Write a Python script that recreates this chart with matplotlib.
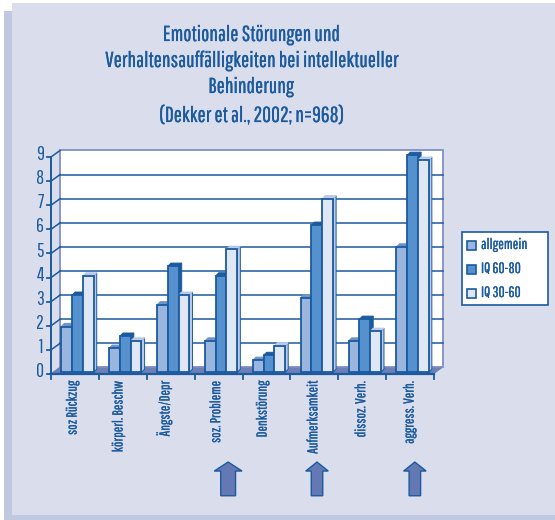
import matplotlib
matplotlib.use('Agg')
import matplotlib.pyplot as plt
import matplotlib.patheffects as pe
from matplotlib.patches import Rectangle

categories = ['soz Rückzug', 'körperl. Beschw', 'Ängste/Depr', 'soz. Probleme',
              'Denkstörung', 'Aufmerksamkeit', 'dissoz. Verh.', 'aggress. Verh.']
allgemein = [1.9, 1.0, 2.8, 1.3, 0.5, 3.1, 1.3, 5.2]
iq_60_80 = [3.2, 1.5, 4.4, 4.0, 0.7, 6.1, 2.2, 9.0]
iq_30_60 = [4.0, 1.3, 3.2, 5.1, 1.1, 7.2, 1.7, 8.8]
series_names = ['allgemein', 'IQ 60-80', 'IQ 30-60']
title_lines = ['Emotionale Störungen und', 'Verhaltensauffälligkeiten bei intellektueller',
               'Behinderung', '(Dekker et al., 2002; n=968)']

W, H = 555, 520
BLUE = '#1b5a9e'
plt.rcParams['font.family'] = ['Pathway Gothic One', 'Liberation Sans Narrow', 'DejaVu Sans']
THICK = [pe.withStroke(linewidth=0.15, foreground=BLUE)]  # the font is a bit thin

fig = plt.figure(figsize=(W / 100, H / 100), dpi=100, facecolor='white')

def px_rect(x0, y0, x1, y1, zorder=5, **kw):
    fig.patches.append(Rectangle((x0 / W, 1 - y1 / H), (x1 - x0) / W, (y1 - y0) / H,
                                 transform=fig.transFigure, zorder=zorder, **kw))

# page background with shadow
px_rect(4, 11, 555, 520, zorder=-3, facecolor='#c0c7e0', edgecolor='none')
px_rect(12, 3, 555, 515, zorder=-2, facecolor='#dadeec', edgecolor='none')

# axes = front edge of the 3d box
left, right, bottom, top = 51, 434, 374, 157
ax = fig.add_axes([left / W, 1 - bottom / H, (right - left) / W, (bottom - top) / H])
ax.set_xlim(0, 8)
ax.set_ylim(0, 9)
ax.patch.set_visible(False)
for s in ax.spines.values():
    s.set_visible(False)

dx = 9 / 47.9   # box depth in data units
dy = 6.5 / 24.1
ax.fill([dx, 8 + dx, 8 + dx, dx], [dy, dy, 9 + dy, 9 + dy], facecolor='white',
        edgecolor='#7f90c5', lw=1.3, clip_on=False, zorder=1)
ax.fill([0, 8, 8 + dx, dx], [0, 0, dy, dy], facecolor='#6c7fb8', edgecolor='none',
        clip_on=False, zorder=2)

for v in range(1, 9):
    ax.plot([dx, 8 + dx], [v + dy, v + dy], color=BLUE, lw=1.1, clip_on=False, zorder=1.5)
for v in range(0, 10):
    ax.plot([0, dx], [v, v + dy], color=BLUE if v else '#6c7fb8', lw=1.1, clip_on=False, zorder=2.5)
    ax.plot([-0.08, 0], [v, v], color=BLUE, lw=1.3, clip_on=False, zorder=3)
    ax.text(-0.15, v + 0.1, str(v), ha='right', va='center', fontsize=14,
            color=BLUE, weight='bold', clip_on=False)
ax.plot([0, 0], [0, 9], color=BLUE, lw=1.4, clip_on=False, zorder=3)
ax.plot([0, 8], [0, 0], color=BLUE, lw=1.6, clip_on=False, zorder=3)
for i in range(9):
    ax.plot([i, i], [0, -0.2], color=BLUE, lw=1.3, clip_on=False, zorder=3)
ax.set_xticks([])
ax.set_yticks([])

# 3d bars
bar_w = 0.225
bar_start = 0.215
base = 0.07
bdx, bdy = 0.065, 0.13
front = ['#9ab6de', '#5590cf', '#dfe6f5']
topc = ['#6f93c8', BLUE, '#b9cbe8']
sidec = ['#6f93c8', BLUE, '#b9cbe8']
series = [allgemein, iq_60_80, iq_30_60]
z = 4
for i in range(len(categories)):
    for k, vals in enumerate(series):
        x0 = i + bar_start + k * bar_w
        x1 = x0 + bar_w
        v = vals[i] + base
        ax.fill([x1, x1 + bdx, x1 + bdx, x1], [base, base + bdy, v + bdy, v],
                facecolor=sidec[k], edgecolor=BLUE, lw=0.7, clip_on=False, zorder=z)
        ax.fill([x0, x0 + bdx, x1 + bdx, x1], [v, v + bdy, v + bdy, v],
                facecolor=topc[k], edgecolor=sidec[k], lw=0.7, clip_on=False, zorder=z)
        ax.fill([x0, x1, x1, x0], [base, base, v, v], facecolor=front[k],
                edgecolor=BLUE, lw=1.3, clip_on=False, zorder=z + 0.5)
        z += 1

# category labels
label_shift = [-0.05, -0.09, -0.13, -0.05, -0.08, -0.02, -0.02, -0.01]
for i, name in enumerate(categories):
    ax.text(i + 0.5 + label_shift[i], -0.3, name, rotation=90, ha='center', va='top',
            fontsize=10.4, color=BLUE, clip_on=False, path_effects=THICK)

# arrows below the highlighted categories: centre, head half width, shaft half width
for c, hw, sw in [(3.70, 0.29, 0.155), (5.556, 0.235, 0.12), (7.60, 0.235, 0.12)]:
    y0, y1, y2 = (374 - 495.7) / 24.1, (374 - 471) / 24.1, (374 - 462) / 24.1
    ax.fill([c - sw, c + sw, c + sw, c + hw, c, c - hw, c - sw],
            [y0, y0, y1, y1, y2, y1, y1], facecolor='#6478b4', edgecolor=BLUE,
            lw=1, clip_on=False)

# legend
px_rect(462, 232, 548, 305, facecolor='white', edgecolor=BLUE, lw=1.2)
for k, name in enumerate(series_names):
    yc = 245 + 24 * k
    px_rect(467.5, yc - 4.5, 476.5, yc + 4.5, zorder=6, facecolor=front[k], edgecolor=BLUE, lw=1.2)
    fig.text(481 / W, 1 - yc / H, name, ha='left', va='center', fontsize=10.8,
             color=BLUE, zorder=6, path_effects=THICK)

# title
for yc, line in zip([35, 61, 87, 116], title_lines):
    fig.text(251 / W, 1 - yc / H, line, ha='center', va='center', fontsize=15.6, color=BLUE,
             path_effects=THICK)

fig.savefig('out.png', dpi=100, facecolor='white')
